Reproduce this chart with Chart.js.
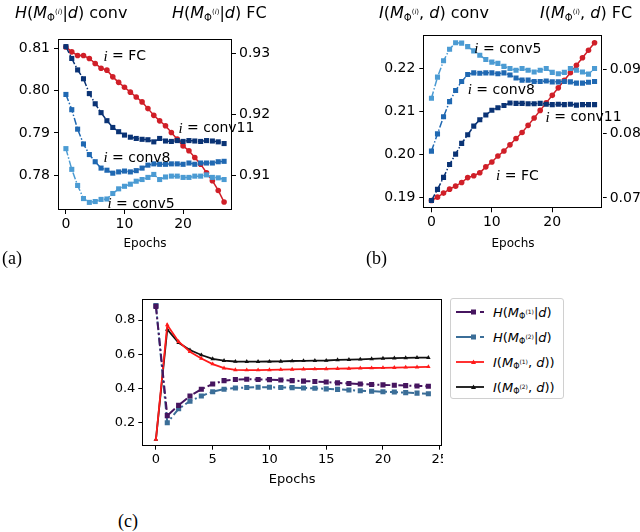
<!DOCTYPE html>
<html><head><meta charset="utf-8">
<script src="https://cdn.jsdelivr.net/npm/chart.js@4.4.1/dist/chart.umd.min.js"></script>
<style>
html,body{margin:0;padding:0;background:#fff;}
body{width:640px;height:532px;overflow:hidden;position:relative;font-family:"DejaVu Sans",sans-serif;color:#000;}
canvas{position:absolute;}
#wc{position:absolute;left:100px;top:280px;width:343px;height:215px;overflow:hidden;}
#wc canvas{left:0;top:0;}
.t{position:absolute;white-space:nowrap;font-size:16px;line-height:1;}
.sub{font-size:10px;position:relative;top:3px;}
.sup{font-size:7px;position:relative;top:-7px;}
.pl{position:absolute;font-family:"Liberation Serif",serif;font-size:18px;line-height:1;}
#leg{position:absolute;left:450px;top:298px;width:114px;height:101px;border:1px solid #d0d0d0;border-radius:3px;box-sizing:border-box;}
.lr{position:absolute;left:0;height:20px;width:114px;}
.lr svg{position:absolute;left:4px;top:0;}
.lt{position:absolute;left:42px;top:3px;font-size:13px;line-height:1;white-space:nowrap;}
.lt .sub{font-size:8px;top:2px;}
.lt .sup{font-size:6px;top:-5px;}
</style>
</head><body>
<canvas id="ca" width="320" height="262" style="left:0;top:0;width:320px;height:262px"></canvas>
<canvas id="cb" width="320" height="262" style="left:320px;top:0;width:320px;height:262px"></canvas>
<div id="wc"><canvas id="cc" width="352" height="215" style="width:352px;height:215px"></canvas></div>

<div class="t" style="left:15px;top:5px"><i>H</i>(<i>M</i><span class="sub">Φ<span class="sup">(<i>i</i>)</span></span>|<i>d</i>) conv</div>
<div class="t" style="left:172px;top:5px"><i>H</i>(<i>M</i><span class="sub">Φ<span class="sup">(<i>i</i>)</span></span>|<i>d</i>) FC</div>
<div class="t" style="left:379px;top:5px"><i>I</i>(<i>M</i><span class="sub">Φ<span class="sup">(<i>i</i>)</span></span>, <i>d</i>) conv</div>
<div class="t" style="left:540px;top:5px"><i>I</i>(<i>M</i><span class="sub">Φ<span class="sup">(<i>i</i>)</span></span>, <i>d</i>) FC</div>

<div class="pl" style="left:2px;top:249px">(a)</div>
<div class="pl" style="left:366px;top:249px">(b)</div>
<div class="pl" style="left:118px;top:512px">(c)</div>

<div id="leg"></div>

<script>
// ---------- data ----------
const epochsAB = [0,1,2,3,4,5,6,7,8,9,10,11,12,13,14,15,16,17,18,19,20,21,22,23,24,25,26,27];
const epochsC  = [0,1,2,3,4,5,6,7,8,9,10,11,12,13,14,15,16,17,18,19,20,21,22,23,24];

// (a) H(M|d)
const aConv11 = [0.8104,0.8076,0.8049,0.8028,0.7993,0.7969,0.7948,0.7929,0.7913,0.7903,0.7895,0.7890,0.7887,0.7885,0.7884,0.7879,0.7887,0.7881,0.7880,0.7882,0.7880,0.7882,0.7881,0.7880,0.7882,0.7881,0.7879,0.7875];
const aConv8  = [0.7991,0.7955,0.7909,0.7874,0.7849,0.7832,0.7817,0.7812,0.7805,0.7808,0.7810,0.7808,0.7811,0.7817,0.7824,0.7827,0.7826,0.7826,0.7827,0.7827,0.7826,0.7829,0.7826,0.7829,0.7829,0.7829,0.7832,0.7833];
const aConv5  = [0.7863,0.7814,0.7776,0.7745,0.7736,0.7738,0.7743,0.7744,0.7757,0.7768,0.7774,0.7779,0.7786,0.7790,0.7795,0.7802,0.7790,0.7796,0.7798,0.7798,0.7795,0.7795,0.7798,0.7798,0.7801,0.7795,0.7794,0.7790];
const aFC     = [0.9311,0.9303,0.9297,0.9297,0.9292,0.9284,0.9276,0.9273,0.9262,0.9253,0.9245,0.9237,0.9229,0.9221,0.9210,0.9199,0.9190,0.9182,0.9171,0.9160,0.9149,0.9141,0.9130,0.9119,0.9105,0.9092,0.9076,0.9057];

// (b) I(M,d)
const bConv5  = [0.2131,0.2180,0.2218,0.2245,0.2260,0.2259,0.2251,0.2241,0.2231,0.2221,0.2215,0.2212,0.2205,0.2200,0.2196,0.2200,0.2196,0.2192,0.2196,0.2200,0.2191,0.2188,0.2191,0.2200,0.2196,0.2192,0.2187,0.2200];
const bConv8  = [0.2008,0.2048,0.2088,0.2123,0.2149,0.2170,0.2186,0.2190,0.2189,0.2190,0.2190,0.2188,0.2190,0.2185,0.2178,0.2173,0.2173,0.2170,0.2170,0.2171,0.2169,0.2169,0.2170,0.2169,0.2166,0.2166,0.2168,0.2170];
const bConv11 = [0.1893,0.1919,0.1947,0.1977,0.2001,0.2026,0.2046,0.2066,0.2081,0.2092,0.2103,0.2109,0.2114,0.2120,0.2119,0.2119,0.2118,0.2118,0.2119,0.2117,0.2116,0.2117,0.2116,0.2117,0.2115,0.2116,0.2116,0.2116];
const bFC     = [0.06959,0.07011,0.07074,0.07136,0.07183,0.07240,0.07316,0.07346,0.07392,0.07484,0.07559,0.07653,0.07731,0.07828,0.07927,0.08021,0.08132,0.08248,0.08366,0.08483,0.08601,0.08718,0.08836,0.08953,0.09070,0.09188,0.09305,0.09423];

// (c)
const cH1 = [0.880,0.240,0.300,0.355,0.395,0.425,0.445,0.452,0.453,0.452,0.451,0.449,0.445,0.442,0.440,0.437,0.432,0.428,0.425,0.422,0.420,0.418,0.416,0.414,0.412];
const cH2 = [0.885,0.198,0.280,0.325,0.355,0.380,0.395,0.402,0.405,0.406,0.406,0.405,0.404,0.402,0.400,0.397,0.394,0.390,0.386,0.383,0.380,0.378,0.375,0.372,0.368];
const cI1 = [0.100,0.771,0.673,0.614,0.575,0.542,0.518,0.508,0.507,0.507,0.508,0.510,0.511,0.512,0.513,0.514,0.515,0.516,0.518,0.519,0.520,0.521,0.523,0.524,0.526];
const cI2 = [0.100,0.745,0.667,0.624,0.595,0.572,0.562,0.557,0.556,0.556,0.557,0.558,0.560,0.561,0.562,0.563,0.566,0.568,0.570,0.572,0.575,0.577,0.578,0.580,0.580];

// annotation texts
const notesA = [{x:6.4,y:0.8080,axis:'yL',label:'FC'},{x:19.2,y:0.7910,axis:'yL',label:'conv11'},{x:6.4,y:0.7841,axis:'yL',label:'conv8'},{x:7.1,y:0.7731,axis:'yL',label:'conv5'}];
const notesB = [{x:7.1,y:0.2245,axis:'yL',label:'conv5'},{x:6.0,y:0.2149,axis:'yL',label:'conv8'},{x:18.9,y:0.2086,axis:'yL',label:'conv11'},{x:10.7,y:0.1950,axis:'yL',label:'FC'}];

// ---------- helpers ----------
Chart.defaults.color = '#000';
Chart.defaults.font.family = '"DejaVu Sans", sans-serif';

const pts = (xs, ys) => xs.map((x, i) => ({x, y: ys[i]}));

const framePlugin = {
  id: 'frame',
  afterDraw(chart) {
    const a = chart.chartArea, c = chart.ctx;
    c.save(); c.strokeStyle = '#000'; c.lineWidth = 1;
    c.strokeRect(Math.round(a.left) + 0.5, Math.round(a.top) + 0.5, Math.round(a.right - a.left) - 1, Math.round(a.bottom - a.top) - 1);
    c.restore();
  }
};
const notesPlugin = {
  id: 'notes',
  afterDatasetsDraw(chart, args, opts) {
    const items = opts.items || [];
    const c = chart.ctx;
    c.save(); c.textBaseline = 'middle'; c.textAlign = 'left'; c.fillStyle = '#000';
    for (const n of items) {
      const x = chart.scales.x.getPixelForValue(n.x);
      const y = chart.scales[n.axis].getPixelForValue(n.y);
      c.font = 'italic 15px "Liberation Serif"';
      c.fillText('i', x, y);
      const w = c.measureText('i').width;
      c.font = '14px "DejaVu Sans"';
      c.fillText(' = ' + n.label, x + w, y);
    }
    c.restore();
  }
};

function fixW(w) { return s => { s.width = w; s.paddingTop = 0; s.paddingBottom = 0; }; }
function fixH(h) { return s => { s.height = h; s.paddingLeft = 0; s.paddingRight = 0; }; }

const tickGrid = {drawOnChartArea: false, drawTicks: true, tickLength: 4, color: '#000', tickColor: '#000', lineWidth: 1};

function convDs(data, color, axis) {
  return {data, yAxisID: axis, borderColor: color, backgroundColor: color, borderWidth: 1.5,
    borderDash: [7, 2, 1.5, 2], pointStyle: 'rect', pointRadius: 3.6, pointBorderWidth: 0, pointHoverRadius: 3.6, tension: 0};
}
function fcDs(data, axis) {
  return {data, yAxisID: axis, borderColor: '#d01f28', backgroundColor: '#d01f28', borderWidth: 1.5,
    pointStyle: 'circle', pointRadius: 2.8, pointBorderWidth: 0, tension: 0};
}

function abChart(id, sets, yL, yR, dims, notes) {
  return new Chart(document.getElementById(id), {
    type: 'line',
    data: {datasets: sets},
    plugins: [framePlugin, notesPlugin],
    options: {
      responsive: false, animation: false, devicePixelRatio: 1,
      layout: {padding: {top: dims.top, left: 0, right: 0, bottom: 0}},
      plugins: {legend: {display: false}, tooltip: {enabled: false}, notes: {items: notes}},
      scales: {
        x: {type: 'linear', min: -1.35, max: 28.35, border: {display: false}, grid: tickGrid,
          ticks: {stepSize: 10, includeBounds: false, padding: 2, font: {size: 14}, maxRotation: 0},
          title: {display: true, text: 'Epochs', font: {size: 12}, padding: {top: 0, bottom: dims.tpad}},
          afterFit: fixH(dims.xh)},
        yL: {type: 'linear', position: 'left', min: yL[0], max: yL[1], border: {display: false}, grid: tickGrid,
          ticks: {stepSize: 0.01, includeBounds: false, padding: 4, font: {size: 14}, callback: v => v.toFixed(2)},
          afterFit: fixW(dims.lw)},
        yR: {type: 'linear', position: 'right', min: yR[0], max: yR[1], border: {display: false}, grid: tickGrid,
          ticks: {stepSize: 0.01, includeBounds: false, padding: 3, font: {size: 14}, callback: v => v.toFixed(2)},
          afterFit: fixW(dims.rw)}
      }
    }
  });
}

abChart('ca', [
  convDs(pts(epochsAB, aConv5), '#4b9bd3', 'yL'),
  convDs(pts(epochsAB, aConv8), '#1f68b2', 'yL'),
  convDs(pts(epochsAB, aConv11), '#0a3375', 'yL'),
  fcDs(pts(epochsAB, aFC), 'yR')
], [0.7718, 0.8122], [0.9044, 0.9324], {top: 39, lw: 58, rw: 88, xh: 52, tpad: 11}, notesA);

abChart('cb', [
  convDs(pts(epochsAB, bConv5), '#4b9bd3', 'yL'),
  convDs(pts(epochsAB, bConv8), '#1f68b2', 'yL'),
  convDs(pts(epochsAB, bConv11), '#0a3375', 'yL'),
  fcDs(pts(epochsAB, bFC), 'yR')
], [0.1875, 0.2278], [0.06837, 0.09543], {top: 35, lw: 103.3, rw: 37.3, xh: 53.7, tpad: 10.5}, notesB);

// (c)
const cStyles = [
  {data: cH1, color: '#46155f', dash: [8, 3, 2, 3], style: 'rect', r: 3.6, w: 2},
  {data: cH2, color: '#3b6e98', dash: [8, 3, 2, 3], style: 'rect', r: 3.6, w: 2},
  {data: cI1, color: '#ff1a1a', dash: [], style: 'triangle', r: 2.6, w: 1.8},
  {data: cI2, color: '#111111', dash: [], style: 'triangle', r: 2.6, w: 1.8}
];
new Chart(document.getElementById('cc'), {
  type: 'line',
  data: {datasets: cStyles.map(s => ({data: pts(epochsC, s.data), borderColor: s.color, backgroundColor: s.color,
    borderWidth: s.w, borderDash: s.dash, pointStyle: s.style, pointRadius: s.r, pointBorderWidth: 0, tension: 0}))},
  plugins: [framePlugin],
  options: {
    responsive: false, animation: false, devicePixelRatio: 1,
    layout: {padding: {top: 19, left: 0, right: 10, bottom: 0}},
    plugins: {legend: {display: false}, tooltip: {enabled: false}},
    scales: {
      x: {type: 'linear', min: -1.2, max: 25.2, border: {display: false}, grid: tickGrid,
        ticks: {stepSize: 5, includeBounds: false, padding: 2, font: {size: 13}, maxRotation: 0},
        title: {display: true, text: 'Epochs', font: {size: 13}, padding: {top: 0, bottom: 8}},
        afterFit: fixH(49.3)},
      y: {type: 'linear', min: 0.064, max: 0.923, border: {display: false}, grid: tickGrid,
        ticks: {stepSize: 0.2, includeBounds: false, padding: 3, font: {size: 13}, callback: v => v.toFixed(1)},
        afterFit: fixW(42.3)}
    }
  }
});

// legend (c)
const legendLabels = [
  '<i>H</i>(<i>M</i><span class="sub">Φ<span class="sup">(1)</span></span>|<i>d</i>)',
  '<i>H</i>(<i>M</i><span class="sub">Φ<span class="sup">(2)</span></span>|<i>d</i>)',
  '<i>I</i>(<i>M</i><span class="sub">Φ<span class="sup">(1)</span></span>, <i>d</i>))',
  '<i>I</i>(<i>M</i><span class="sub">Φ<span class="sup">(2)</span></span>, <i>d</i>))'
];
const leg = document.getElementById('leg');
cStyles.forEach((s, i) => {
  const row = document.createElement('div');
  row.className = 'lr';
  row.style.top = (4 + i * 25) + 'px';
  let marker;
  if (s.style === 'rect') marker = `<rect x="16" y="6.5" width="5" height="5" fill="${s.color}"/>`;
  else marker = `<polygon points="18.5,6.5 21,11 16,11" fill="${s.color}"/>`;
  const dash = s.dash.length ? `stroke-dasharray="20 4 5 4"` : '';
  row.innerHTML = `<svg width="32" height="18"><line x1="1" y1="9" x2="29" y2="9" stroke="${s.color}" stroke-width="${s.w}" ${dash}/>${marker}</svg><div class="lt">${legendLabels[i]}</div>`;
  leg.appendChild(row);
});
</script>
</body></html>
